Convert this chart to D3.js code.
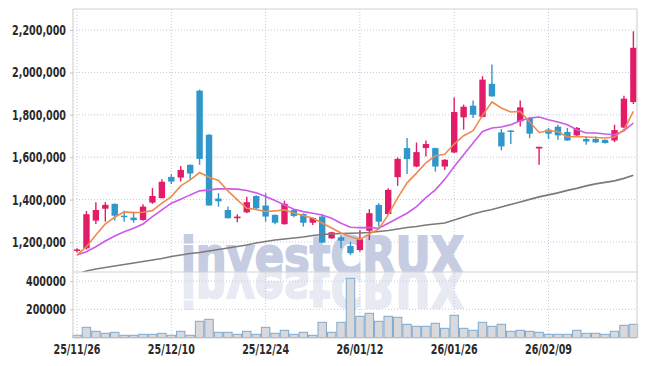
<!DOCTYPE html>
<html>
<head>
<meta charset="utf-8">
<script src="https://cdn.jsdelivr.net/npm/d3@7"></script>
<style>
    body { margin: 0; background: #fff; }
    svg { display: block; }
    .lbl { font-family: "Liberation Sans Narrow", "DejaVu Sans Condensed", sans-serif; font-weight: bold; font-size: 14px; fill: #2a2a2a; }
    .grid { stroke: #c3c8dc; stroke-dasharray: 1,2; stroke-width: 1; }
    .frame { stroke: #d4d4d4; stroke-width: 1.2; fill: none; }
</style>
</head>
<body>
<svg width="647" height="366"></svg>
<script>
// trading days (yy/mm/dd)
var dates = ["25/11/26","25/11/27","25/11/28","25/12/01","25/12/02","25/12/03","25/12/04","25/12/05","25/12/08","25/12/09",
    "25/12/10","25/12/11","25/12/12","25/12/15","25/12/16","25/12/17","25/12/18","25/12/19","25/12/22","25/12/23",
    "25/12/24","25/12/26","25/12/29","25/12/30","26/01/02","26/01/05","26/01/06","26/01/07","26/01/08","26/01/09",
    "26/01/12","26/01/13","26/01/14","26/01/15","26/01/16","26/01/19","26/01/20","26/01/21","26/01/22","26/01/23",
    "26/01/26","26/01/27","26/01/28","26/01/29","26/01/30","26/02/02","26/02/03","26/02/04","26/02/05","26/02/06",
    "26/02/09","26/02/10","26/02/11","26/02/12","26/02/13","26/02/19","26/02/20","26/02/23","26/02/24","26/02/25"];

var opens = [1158000,1170000,1301000,1357000,1380000,1324000,1315000,1304000,1386000,1407000,
    1507000,1504000,1564000,1914000,1706000,1405000,1351000,1312000,1340000,1417000,
    1372000,1328000,1284000,1351000,1332000,1291000,1320000,1217000,1222000,1181000,
    1162000,1253000,1375000,1332000,1506000,1643000,1556000,1643000,1643000,1556000,
    1622000,1788000,1843000,1790000,1946000,1717000,1726000,1769000,1785000,1641000,
    1730000,1744000,1719000,1703000,1686000,1686000,1682000,1679000,1740000,1860000];
var highs = [1170000,1346000,1388000,1388000,1382000,1347000,1343000,1378000,1454000,1496000,
    1520000,1559000,1566000,1919000,1708000,1430000,1367000,1331000,1414000,1420000,
    1430000,1330000,1395000,1353000,1335000,1315000,1331000,1248000,1233000,1201000,
    1257000,1355000,1383000,1454000,1599000,1690000,1669000,1679000,1645000,1590000,
    1882000,1848000,1867000,1982000,2037000,1733000,1727000,1868000,1787000,1649000,
    1738000,1753000,1738000,1742000,1698000,1698000,1684000,1753000,1890000,2194000];
var lows = [1150000,1165000,1285000,1296000,1301000,1296000,1291000,1300000,1380000,1405000,
    1473000,1485000,1493000,1564000,1372000,1367000,1312000,1293000,1336000,1350000,
    1296000,1284000,1282000,1317000,1272000,1280000,1197000,1215000,1170000,1139000,
    1154000,1209000,1272000,1330000,1465000,1521000,1553000,1603000,1532000,1540000,
    1620000,1730000,1785000,1788000,1885000,1632000,1662000,1745000,1690000,1564000,
    1686000,1682000,1677000,1700000,1659000,1667000,1665000,1671000,1738000,1851000];
var closes = [1165000,1331000,1351000,1375000,1324000,1317000,1303000,1367000,1417000,1484000,
    1485000,1540000,1523000,1592000,1372000,1392000,1312000,1320000,1388000,1359000,
    1320000,1291000,1380000,1323000,1291000,1313000,1197000,1246000,1206000,1147000,
    1213000,1336000,1296000,1446000,1592000,1591000,1624000,1662000,1556000,1588000,
    1813000,1838000,1800000,1966000,1887000,1651000,1719000,1835000,1711000,1649000,
    1711000,1703000,1679000,1738000,1674000,1670000,1667000,1728000,1876000,2116000];

var volumes = [15600,72300,44000,29800,36900,15600,15600,22700,22700,29800,
    15600,44000,15600,114900,129100,36900,36900,22700,44000,22700,
    72300,29800,51100,22700,36900,15600,107800,36900,107800,419900,
    150300,171600,114900,150300,143300,93600,79400,79400,100700,65200,
    157400,65200,51100,107800,79400,93600,44000,51100,44000,36900,
    22700,22700,22700,51100,29800,29800,22700,44000,86500,93600];

// moving averages as drawn
var maShort = [1138500,1177800,1233100,1285100,1316800,1341900,1338500,1340400,1348000,1383000,
    1414200,1464800,1493200,1527700,1505900,1489900,1441100,1398600,1359300,1353700,
    1344200,1346600,1351300,1337100,1325300,1312100,1289800,1266200,1242600,1225100,
    1211800,1237800,1261500,1327700,1408000,1479000,1524800,1573500,1606600,1613700,
    1662000,1701200,1724900,1797200,1860600,1832200,1813300,1816100,1766000,1716800,
    1724900,1721500,1695100,1697900,1695100,1693200,1690300,1695100,1729600,1816100];
var maMid = [1138500,1154100,1177800,1204700,1228400,1248700,1264800,1285100,1319600,1351300,
    1383000,1401900,1422200,1441100,1445900,1450600,1450600,1449200,1442600,1431700,
    1414200,1395300,1374900,1354600,1343300,1335700,1327700,1312100,1288400,1269500,
    1267600,1267600,1264800,1288400,1312100,1335700,1366900,1409500,1445900,1495500,
    1556000,1611400,1666700,1721500,1737600,1742300,1753200,1772100,1784900,1789600,
    1776900,1766000,1753200,1729600,1714000,1714000,1709200,1705900,1724900,1761300];
var maLong = [1048700,1062900,1072300,1079400,1086500,1093600,1100700,1107800,1114900,1122000,
    1131400,1138500,1145600,1150400,1157400,1164500,1171600,1178700,1185800,1195300,
    1202400,1209500,1214200,1218900,1223600,1230700,1235500,1237800,1240200,1241100,
    1242600,1244900,1249600,1254400,1261500,1268600,1273300,1280400,1285100,1289800,
    1304000,1318200,1332400,1344200,1353700,1365500,1377300,1389100,1401000,1412800,
    1422200,1431700,1443500,1453000,1464800,1474200,1481300,1488400,1500200,1514400];

var priceTicks = [1200000, 1400000, 1600000, 1800000, 2000000, 2200000];
var volumeTicks = [200000, 400000];
var dateTicks = ["25/11/26", "25/12/10", "25/12/24", "26/01/12", "26/01/26", "26/02/09"];

var svg = d3.select("svg");
var pLeft = 73, pRight = 637, pTop = 9, pMid = 272, pBottom = 338;

var x = d3.scaleBand().domain(d3.range(dates.length)).range([72.3, 638.1]).paddingInner(0);
var y = d3.scaleLinear().domain([1200000, 2200000]).range([242, 30]);
var yv = d3.scaleLinear().domain([0, 400000]).range([337.5, 281.1]);
var cx = function (i) { return x(i) + x.bandwidth() / 2; };

svg.append("clipPath").attr("id", "clipMain")
    .append("rect").attr("x", pLeft).attr("y", pTop).attr("width", pRight - pLeft).attr("height", pMid - pTop);
svg.append("clipPath").attr("id", "clipVol")
    .append("rect").attr("x", pLeft).attr("y", pMid).attr("width", pRight - pLeft).attr("height", pBottom - pMid);

//grid lines
var grid = svg.append("g");
grid.selectAll(".hg").data(priceTicks).enter().append("line")
    .attr("class", "grid")
    .attr("x1", pLeft).attr("x2", pRight)
    .attr("y1", function (d) { return y(d); }).attr("y2", function (d) { return y(d); });
grid.selectAll(".vg").data(volumeTicks).enter().append("line")
    .attr("class", "grid")
    .attr("x1", pLeft).attr("x2", pRight)
    .attr("y1", function (d) { return yv(d); }).attr("y2", function (d) { return yv(d); });
grid.selectAll(".xg").data(dateTicks).enter().append("line")
    .attr("class", "grid")
    .attr("x1", function (d) { return cx(dates.indexOf(d)); })
    .attr("x2", function (d) { return cx(dates.indexOf(d)); })
    .attr("y1", pTop).attr("y2", pBottom);

//watermark and its reflection
var wm = svg.append("g").attr("clip-path", "url(#clipMain)");
wm.append("text")
    .attr("x", 181).attr("y", 274)
    .attr("textLength", 283).attr("lengthAdjust", "spacingAndGlyphs")
    .style("font-family", "DejaVu Sans").style("font-weight", "bold").style("font-size", "52px")
    .style("fill", "#c6cde3").style("stroke", "#c6cde3").style("stroke-width", 2)
    .text("investCRUX");
var wr = svg.append("g").attr("clip-path", "url(#clipVol)");
wr.append("text")
    .attr("x", 181).attr("y", -270)
    .attr("transform", "scale(1,-1)")
    .attr("textLength", 283).attr("lengthAdjust", "spacingAndGlyphs")
    .style("font-family", "DejaVu Sans").style("font-weight", "bold").style("font-size", "52px")
    .style("fill", "#c6cde3").style("stroke", "#c6cde3").style("stroke-width", 2).style("opacity", 0.4)
    .text("investCRUX");

//volume bars
svg.append("g").selectAll("rect").data(volumes).enter().append("rect")
    .attr("x", function (d, i) { return x(i) + 0.5; })
    .attr("width", x.bandwidth() - 1)
    .attr("y", function (d) { return yv(d); })
    .attr("height", function (d) { return yv(0) - yv(d); })
    .style("fill", "#d9d9dc")
    .style("stroke", "#7ea9cf")
    .style("stroke-width", 1);

//candles
var plot = svg.append("g").attr("clip-path", "url(#clipMain)");
var up = "#e31c6a", down = "#3197cb";
var candles = plot.selectAll(".candle").data(dates).enter().append("g");
candles.append("line")
    .attr("x1", function (d, i) { return cx(i); }).attr("x2", function (d, i) { return cx(i); })
    .attr("y1", function (d, i) { return y(highs[i]); })
    .attr("y2", function (d, i) { return y(lows[i]); })
    .style("stroke", function (d, i) { return closes[i] >= opens[i] ? up : down; })
    .style("stroke-width", 1.4);
candles.append("rect")
    .attr("x", function (d, i) { return cx(i) - 3.2; })
    .attr("width", 6.4)
    .attr("y", function (d, i) { return y(Math.max(opens[i], closes[i])); })
    .attr("height", function (d, i) { return Math.max(1.5, Math.abs(y(opens[i]) - y(closes[i]))); })
    .style("fill", function (d, i) { return closes[i] >= opens[i] ? up : down; });

//moving average lines
var line = d3.line()
    .x(function (d, i) { return cx(i); })
    .y(function (d) { return y(d); });
plot.append("path").datum(maLong).attr("d", line)
    .style("fill", "none").style("stroke", "#7a7a7a").style("stroke-width", 1.6);
plot.append("path").datum(maMid).attr("d", line)
    .style("fill", "none").style("stroke", "#cc5ae8").style("stroke-width", 1.6);
plot.append("path").datum(maShort).attr("d", line)
    .style("fill", "none").style("stroke", "#ef8a50").style("stroke-width", 1.6);

//frame
[[pLeft, pTop, pRight, pTop], [pLeft, pMid, pRight, pMid], [pLeft, pBottom, pRight, pBottom],
    [pLeft, pTop, pLeft, pBottom], [pRight, pTop, pRight, pBottom]].forEach(function (f) {
    svg.append("line").attr("class", "frame")
        .attr("x1", f[0]).attr("y1", f[1]).attr("x2", f[2]).attr("y2", f[3]);
});

//squeeze the label font to the narrow look of the original
function narrow(g) {
    g.selectAll("text").attr("class", "lbl").each(function () {
        var w = this.getComputedTextLength();
        d3.select(this).attr("textLength", w * 0.76).attr("lengthAdjust", "spacingAndGlyphs");
    });
}

//axes
svg.append("g")
    .attr("transform", "translate(" + pLeft + ",0)")
    .call(d3.axisLeft(y).tickValues(priceTicks).tickFormat(d3.format(",")).tickSize(3).tickPadding(4))
    .call(function (g) { g.select(".domain").remove(); })
    .call(function (g) { g.selectAll("line").style("stroke", "#c8c8c8"); })
    .call(narrow);

svg.append("g")
    .attr("transform", "translate(" + pLeft + ",0)")
    .call(d3.axisLeft(yv).tickValues(volumeTicks).tickFormat(d3.format("d")).tickSize(3).tickPadding(4))
    .call(function (g) { g.select(".domain").remove(); })
    .call(function (g) { g.selectAll("line").style("stroke", "#c8c8c8"); })
    .call(narrow);

svg.append("g")
    .attr("transform", "translate(0," + pBottom + ")")
    .call(d3.axisBottom(x).tickValues(dateTicks.map(function (d) { return dates.indexOf(d); }))
        .tickFormat(function (i) { return dates[i]; }).tickSize(0).tickPadding(6))
    .call(function (g) { g.select(".domain").remove(); })
    .call(narrow);
</script>
</body>
</html>
